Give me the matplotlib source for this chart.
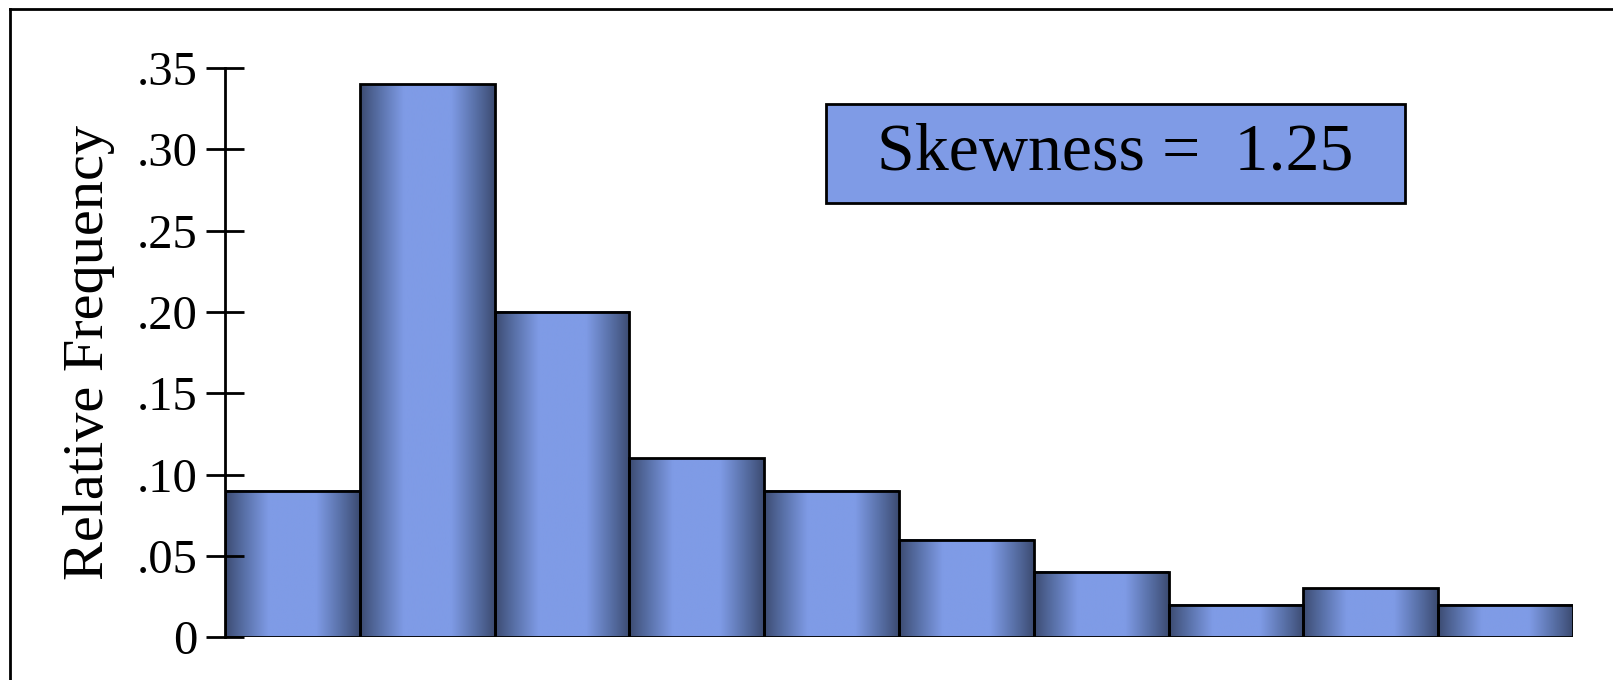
import numpy as np
import matplotlib
matplotlib.use("Agg")
from matplotlib import pyplot as plt
from matplotlib.colors import LinearSegmentedColormap
from matplotlib.patches import Rectangle
from matplotlib.lines import Line2D

# relative frequency per class (10 classes, right skewed)
rel_freq = [0.09, 0.34, 0.20, 0.11, 0.09, 0.06, 0.04, 0.02, 0.03, 0.02]
yticks = [0, 0.05, 0.10, 0.15, 0.20, 0.25, 0.30, 0.35]
ytick_labels = ["0", ".05", ".10", ".15", ".20", ".25", ".30", ".35"]
skew_text = "Skewness =  1.25"

plt.rcParams["font.family"] = ["Liberation Serif", "DejaVu Serif"]

fig = plt.figure(figsize=(16.13, 6.8), dpi=100)
ax = fig.add_axes([0.1395, 0.063, 0.8357, 0.837])

# cylinder-like shading: dark at the edges, light in the middle
cmap = LinearSegmentedColormap.from_list("bar", ["#3b4a70", "#5a72aa", "#7f9be6"])
u = np.linspace(0, 1, 200)
t = np.clip(1 - np.abs(u - 0.5) / 0.5, 0, 1)
t = np.clip(t / 0.65, 0, 1) ** 0.9
grad = t[np.newaxis, :]

for i, h in enumerate(rel_freq):
    ax.imshow(grad, extent=[i, i + 1, 0, h], aspect="auto", cmap=cmap,
              vmin=0, vmax=1, zorder=1, interpolation="bilinear")
ax.bar(np.arange(len(rel_freq)), rel_freq, width=1.0, align="edge",
       facecolor="none", edgecolor="black", linewidth=2, zorder=2)

ax.set_xlim(0, len(rel_freq))
ax.set_ylim(0, 0.35)
ax.set_yticks(yticks)
ax.set_yticklabels(ytick_labels, fontsize=35)
ax.tick_params(axis="y", direction="inout", length=27, width=2, pad=6)
ax.set_xticks([])
for s in ["top", "right", "bottom"]:
    ax.spines[s].set_visible(False)
ax.spines["left"].set_linewidth(2)
ax.set_ylabel("Relative Frequency", fontsize=42, labelpad=16)

# outer frame (top and left edges visible)
fig.add_artist(Line2D([10 / 1613, 1], [1 - 9 / 680, 1 - 9 / 680], color="black", lw=2))
fig.add_artist(Line2D([10 / 1613, 10 / 1613], [0, 1 - 9 / 680], color="black", lw=2))

# skewness box
bx0, bx1, by0, by1 = 826, 1405, 104, 203
fig.add_artist(Rectangle((bx0 / 1613, 1 - by1 / 680), (bx1 - bx0) / 1613, (by1 - by0) / 680,
                         facecolor="#7f9be6", edgecolor="black", lw=2))
fig.text((bx0 + bx1) / 2 / 1613, 1 - (by0 + by1) / 2 / 680, skew_text,
         fontsize=49, ha="center", va="center")

fig.savefig("out.png", dpi=100)
